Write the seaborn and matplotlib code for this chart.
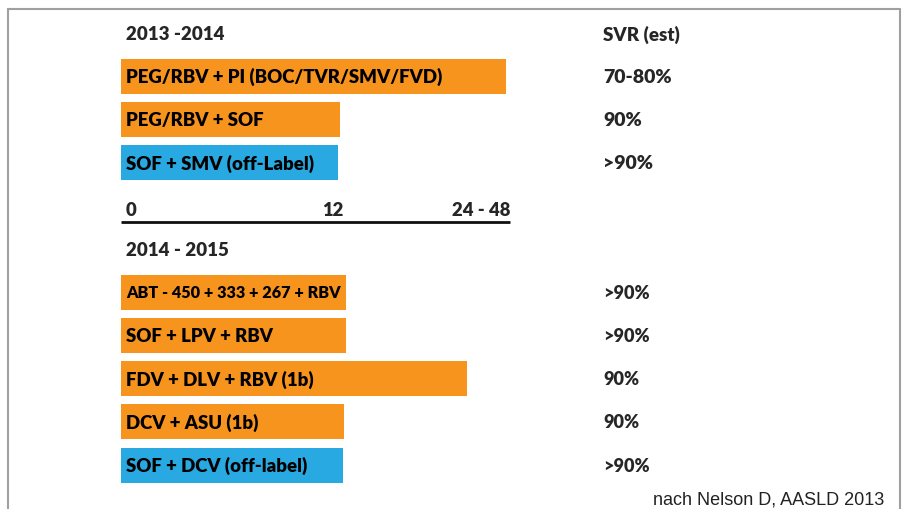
import pandas as pd
import matplotlib.pyplot as plt
import seaborn as sns
from matplotlib.lines import Line2D
from matplotlib.transforms import blended_transform_factory

# Datos (duración en semanas, escala del eje dibujado: 0 - 12 - "24 - 48")
header_1314 = '2013 -2014'
regimens_1314 = ['PEG/RBV + PI (BOC/TVR/SMV/FVD)', 'PEG/RBV + SOF', 'SOF + SMV (off-Label)']
weeks_1314 = [21.8, 12.4, 12.25]
svr_1314 = ['70-80%', '90%', '>90%']
offlabel_1314 = [False, False, True]

header_1415 = '2014 - 2015'
regimens_1415 = ['ABT - 450 + 333 + 267 + RBV', 'SOF + LPV + RBV', 'FDV + DLV + RBV (1b)',
                 'DCV + ASU (1b)', 'SOF + DCV (off-label)']
weeks_1415 = [12.7, 12.75, 19.55, 12.6, 12.55]
svr_1415 = ['>90%', '>90%', '90%', '90%', '>90%']
offlabel_1415 = [False, False, False, False, True]

tick_values = [0, 12, 22]
tick_labels = ['0', '12', '24 - 48']
svr_title = 'SVR (est)'
source = 'nach Nelson D, AASLD 2013'

ORANGE = '#F7941E'
BLUE = '#29A9E1'

df = pd.DataFrame({
    'regimen': regimens_1314 + regimens_1415,
    'weeks': weeks_1314 + weeks_1415,
    'status': ['off-label' if o else 'approved' for o in offlabel_1314 + offlabel_1415],
})

# filas: cabecera, barras, eje, cabecera, barras
order = [header_1314] + regimens_1314 + ['__axis__', header_1415] + regimens_1415

sns.set_style('white')
plt.rcParams['font.family'] = ['Lato', 'DejaVu Sans']

fig = plt.figure(figsize=(9.02, 5.1), dpi=100)
ax = fig.add_axes([121 / 902, 0.0439, 389 / 902, 0.9318])

sns.barplot(data=df, x='weeks', y='regimen', hue='status', order=order,
            palette={'approved': ORANGE, 'off-label': BLUE}, dodge=False,
            width=0.81, saturation=1, linewidth=0, legend=False, ax=ax)

ax.set_xlim(0, 22)
ax.set_ylim(len(order) - 0.5, -0.5)
ax.axis('off')

W = 'heavy'

# textos dentro de las barras
for name in regimens_1314 + regimens_1415:
    size = 11.7 if name.startswith('ABT') else 13.4
    ax.text(0.28, order.index(name), name, va='center', ha='left',
            fontsize=size, fontweight=W, color='black')

# cabeceras de periodo
for h in [header_1314, header_1415]:
    ax.text(0.28, order.index(h) + 0.02, h, va='center', ha='left',
            fontsize=13.5, fontweight=W)

# columna SVR
tr = blended_transform_factory(fig.transFigure, ax.transData)
svr_x = 603 / 902
ax.text(svr_x, order.index(header_1314) + 0.02, svr_title, transform=tr, va='center',
        fontsize=13.5, fontweight=W)
for name, s in zip(regimens_1314, svr_1314):
    ax.text(svr_x, order.index(name), s, transform=tr, va='center',
            fontsize=14, fontweight=W)
for name, s in zip(regimens_1415, svr_1415):
    ax.text(svr_x, order.index(name), s, transform=tr, va='center',
            fontsize=13, fontweight=W)

# eje de semanas
axis_row = order.index('__axis__')
ax.plot([0, 22], [axis_row + 0.38, axis_row + 0.38], color='#111111', lw=2,
        solid_capstyle='butt', clip_on=False)
for v, lab in zip(tick_values, tick_labels):
    ha = 'left' if v == 0 else ('right' if v == max(tick_values) else 'center')
    xv = v + 0.28 if v == 0 else v
    ax.text(xv, axis_row + 0.22, lab, ha=ha, va='baseline',
            fontsize=13.3, fontweight=W)

# marco gris del slide
frame = dict(color='#a0a0a0', lw=1.5, transform=fig.transFigure)
fig.add_artist(Line2D([8 / 902, 8 / 902], [0, 1 - 10 / 510], **frame))
fig.add_artist(Line2D([8 / 902, 900 / 902], [1 - 10 / 510, 1 - 10 / 510], **frame))
fig.add_artist(Line2D([900 / 902, 900 / 902], [0, 1 - 10 / 510], **frame))

fig.text(884 / 902, 1 - 505 / 510, source, ha='right', va='baseline',
         fontsize=13, family=['Liberation Sans', 'DejaVu Sans'], color='#222222')

fig.savefig('out.png', dpi=100)
